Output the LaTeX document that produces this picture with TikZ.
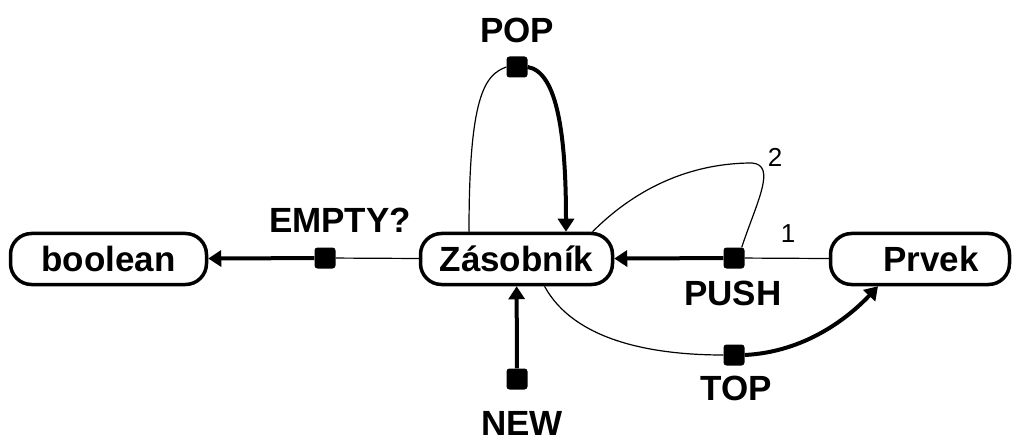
\documentclass[tikz,border=0pt]{standalone}
\usepackage{fontspec}
\setmainfont{Liberation Sans}
\usetikzlibrary{arrows.meta}
\begin{document}
\begin{tikzpicture}[x=1pt,y=-1pt,
  typebox/.style={draw, line width=3.5pt, rounded corners=21pt, minimum height=51pt,
    inner sep=0pt, font=\fontsize{35}{40}\selectfont\bfseries},
  opdot/.style={fill, rectangle, rounded corners=3pt, minimum size=21pt, inner sep=0pt},
  oplabel/.style={font=\fontsize{35}{40}\selectfont\bfseries, inner sep=0pt},
  argnum/.style={font=\fontsize{26}{30}\selectfont, inner sep=0pt},
  argline/.style={line width=1.2pt},
  resline/.style={line width=4pt, -{Triangle[length=13pt,width=16pt]}}
]
\useasboundingbox (0,0) rectangle (1013,441);

% sorts
\node[typebox, minimum width=196pt] (bool) at (108.5,259) {boolean};
\node[typebox, minimum width=192pt] (zas) at (516.5,259) {Zásobník};
\node[typebox, minimum width=179pt] (prvek) at (920,259) {\hspace*{22pt}Prvek};

% operations
\node[opdot] (empty) at (325,258) {};
\node[opdot] (pop) at (517,67) {};
\node[opdot] (push) at (734,258) {};
\node[opdot] (top) at (734,355) {};
\node[opdot] (new) at (517,379) {};

\node[oplabel] (emptyl) at (340,220) {EMPTY?};
\node[oplabel] (popl) at (517,30) {POP};
\node[oplabel] (pushl) at (733,293) {PUSH};
\node[oplabel] (topl) at (736,388) {TOP};
\node[oplabel] (newl) at (522,423) {NEW};

% EMPTY?
\draw[argline] (empty) -- (zas);
\draw[resline] (empty) -- (bool);

% POP
\draw[argline] ([xshift=-47.5pt]zas.north) .. controls +(0,-135) and +(-22,8) .. (pop.west);
\draw[resline] (pop.east) .. controls +(30,5) and +(0,-95) .. ([xshift=49.5pt]zas.north);

% PUSH
\draw[argline] (push) -- (prvek);
\draw[argline] ([xshift=76pt]zas.north) .. controls +(55,-55) and +(-45,0) .. (752,163)
  .. controls +(25,2) and +(15,-45) .. ([xshift=-3pt]push.north east);
\draw[resline] (push) -- (zas);
\node[argnum] (n1) at (788,234) {1};
\node[argnum] (n2) at (775,157) {2};

% TOP
\draw[argline] ([xshift=28pt]zas.south) .. controls +(30,55) and +(-70,0) .. (top.west);
\draw[resline] (top.east) .. controls +(60,-3) and +(-30,32) .. ([xshift=-42pt]prvek.south);

% NEW
\draw[resline] (new) -- (zas);
\end{tikzpicture}
\end{document}
